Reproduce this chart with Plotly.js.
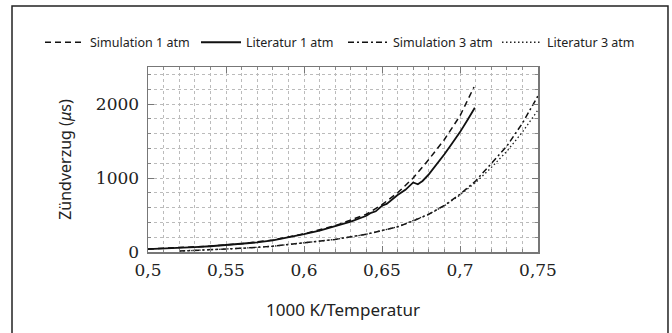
<!DOCTYPE html>
<html>
<head>
<meta charset="utf-8">
<script src="https://cdn.plot.ly/plotly-3.0.1.min.js"></script>
<style>html,body{margin:0;padding:0;background:#fff;}#chart{width:672px;height:333px;}</style>
</head>
<body>
<div id="chart"></div>
<script>
// Simulation 1 atm (dashed)
const sim1X = [0.50, 0.52, 0.54, 0.56, 0.58, 0.60, 0.62, 0.64, 0.65, 0.66, 0.67, 0.68, 0.69, 0.70, 0.709];
const sim1Y = [40, 55, 80, 112, 162, 245, 355, 510, 640, 800, 1000, 1250, 1520, 1840, 2230];
// Literatur 1 atm (solid)
const lit1X = [0.50, 0.51, 0.52, 0.53, 0.54, 0.55, 0.56, 0.57, 0.58, 0.59, 0.60, 0.61, 0.62, 0.63, 0.64, 0.643, 0.646, 0.65, 0.653, 0.656, 0.66, 0.665, 0.668, 0.670, 0.673, 0.676, 0.68, 0.685, 0.69, 0.695, 0.70, 0.705, 0.7095];
const lit1Y = [38, 45, 54, 65, 78, 93, 110, 130, 158, 195, 240, 290, 345, 410, 490, 530, 550, 625, 650, 700, 770, 840, 900, 940, 915, 960, 1050, 1180, 1320, 1470, 1620, 1790, 1950];
// Simulation 3 atm (dash-dot)
const sim3X = [0.52, 0.54, 0.56, 0.58, 0.60, 0.62, 0.64, 0.65, 0.66, 0.67, 0.68, 0.69, 0.70, 0.71, 0.72, 0.73, 0.74, 0.75];
const sim3Y = [12, 30, 50, 78, 120, 170, 240, 285, 340, 420, 510, 630, 780, 960, 1190, 1430, 1740, 2110];
// Literatur 3 atm (dotted)
const lit3X = [0.52, 0.54, 0.56, 0.58, 0.60, 0.62, 0.64, 0.66, 0.68, 0.69, 0.70, 0.71, 0.72, 0.73, 0.74, 0.75];
const lit3Y = [12, 30, 50, 78, 120, 170, 240, 340, 510, 625, 770, 940, 1140, 1360, 1620, 1920];

const xTickVals = [0.5, 0.55, 0.6, 0.65, 0.7, 0.75];
const xTickText = ['0,5', '0,55', '0,6', '0,65', '0,7', '0,75'];
const yTickVals = [0, 1000, 2000];
const yTickText = ['0', '1000', '2000'];

const names = ['Simulation 1 atm', 'Literatur 1 atm', 'Simulation 3 atm', 'Literatur 3 atm'];

const traces = [
  {x: sim1X, y: sim1Y, name: names[0], legend: 'legend', mode: 'lines', line: {color: '#111', width: 1.5, dash: '6px,4px'}},
  {x: lit1X, y: lit1Y, name: names[1], legend: 'legend2', mode: 'lines', line: {color: '#111', width: 1.8}},
  {x: sim3X, y: sim3Y, name: names[2], legend: 'legend3', mode: 'lines', line: {color: '#111', width: 1.5, dash: '6px,3px,2px,3px'}},
  {x: lit3X, y: lit3Y, name: names[3], legend: 'legend4', mode: 'lines', line: {color: '#222', width: 1.3, dash: '1.5px,2.5px'}}
];

const sansFont = 'Noto Sans, sans-serif';
const serifFont = 'DejaVu Serif, serif';

function legendAt(px) {
  return {orientation: 'h', xref: 'container', yref: 'container', x: px / 672, xanchor: 'left', y: 0.872, yanchor: 'middle',
          bgcolor: 'rgba(0,0,0,0)', font: {family: sansFont, size: 12.5, color: '#222'}, itemwidth: 40};
}

const layout = {
  width: 672, height: 333,
  margin: {l: 148, r: 134, t: 67, b: 81},
  paper_bgcolor: '#fff', plot_bgcolor: '#fff',
  showlegend: true,
  legend: legendAt(40),
  legend2: legendAt(196),
  legend3: legendAt(343),
  legend4: legendAt(497),
  xaxis: {
    range: [0.5, 0.75], tickvals: xTickVals, ticktext: xTickText,
    ticks: 'inside', ticklen: 6, tickwidth: 1, tickcolor: '#777',
    showline: true, linecolor: '#777', linewidth: 1.5, mirror: 'allticks',
    showgrid: true, gridcolor: '#bbb', griddash: 'dot', gridwidth: 1,
    zeroline: false,
    minor: {dtick: 0.01, tick0: 0.5, ticks: 'inside', ticklen: 3, tickcolor: '#888', showgrid: true, gridcolor: '#bbb', griddash: 'dot', gridwidth: 1},
    tickfont: {family: serifFont, size: 17, color: '#222'},
    ticklabelstandoff: 2,
    title: {text: '1000 K/Temperatur', font: {family: sansFont, size: 17, color: '#222'}, standoff: 25}
  },
  yaxis: {
    range: [0, 2500], tickvals: yTickVals, ticktext: yTickText,
    ticks: 'inside', ticklen: 6, tickwidth: 1, tickcolor: '#777',
    showline: true, linecolor: '#777', linewidth: 1.5, mirror: 'allticks',
    showgrid: true, gridcolor: '#bbb', griddash: 'dot', gridwidth: 1,
    zeroline: false,
    minor: {dtick: 200, tick0: 0, ticks: 'inside', ticklen: 3, tickcolor: '#888', showgrid: true, gridcolor: '#bbb', griddash: 'dot', gridwidth: 1},
    tickfont: {family: serifFont, size: 17, color: '#222'},
    ticklabelstandoff: 4,
    title: {text: 'Zündverzug (<i>μ</i>s)', font: {family: sansFont, size: 16, color: '#222'}, standoff: 20}
  },
  shapes: [
    {type: 'rect', xref: 'paper', yref: 'paper', x0: -0.3487, x1: 1.3333, y0: -0.6, y1: 1.3297,
     line: {color: '#222', width: 1.5}, fillcolor: 'rgba(0,0,0,0)', layer: 'below'}
  ]
};

Plotly.newPlot('chart', traces, layout, {displayModeBar: false, staticPlot: true});
</script>
</body>
</html>
